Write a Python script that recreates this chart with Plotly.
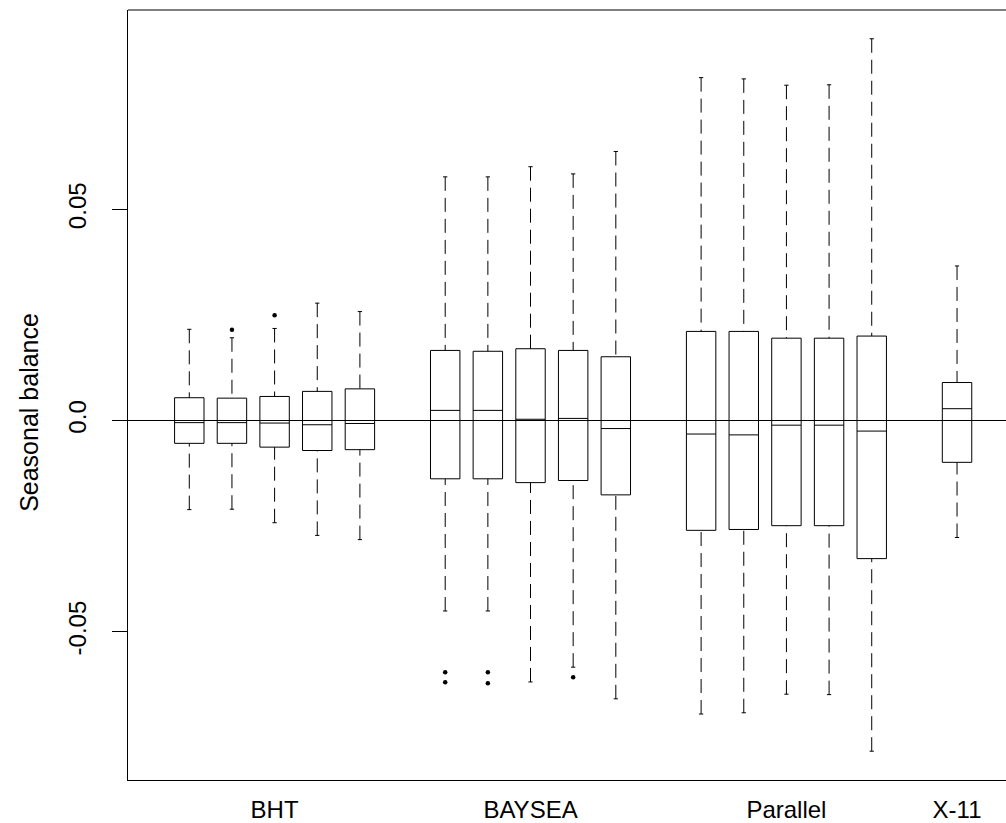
import plotly.graph_objects as go

# ---- data ----
group_names = ["BHT", "BAYSEA", "Parallel", "X-11"]
group_label_pos = [3, 9, 15, 19]

positions = [1, 2, 3, 4, 5, 7, 8, 9, 10, 11, 13, 14, 15, 16, 17, 19]

upper_whisker = [0.0216, 0.0196, 0.0218, 0.0278, 0.0258,
                 0.0577, 0.0577, 0.0601, 0.0584, 0.0637,
                 0.0812, 0.0809, 0.0794, 0.0795, 0.0904,
                 0.0366]
q3 = [0.0054, 0.0053, 0.0057, 0.0069, 0.0075,
      0.0166, 0.0164, 0.0170, 0.0166, 0.0151,
      0.0211, 0.0211, 0.0195, 0.0195, 0.0200,
      0.0090]
median = [-0.0005, -0.0005, -0.0006, -0.0010, -0.0007,
          0.0024, 0.0024, 0.0003, 0.0005, -0.0019,
          -0.0032, -0.0034, -0.0011, -0.0011, -0.0025,
          0.0028]
q1 = [-0.0054, -0.0054, -0.0063, -0.0071, -0.0069,
      -0.0138, -0.0138, -0.0147, -0.0142, -0.0176,
      -0.0260, -0.0258, -0.0249, -0.0249, -0.0327,
      -0.0099]
lower_whisker = [-0.0211, -0.0210, -0.0242, -0.0272, -0.0282,
                 -0.0451, -0.0451, -0.0619, -0.0584, -0.0659,
                 -0.0695, -0.0692, -0.0648, -0.0649, -0.0783,
                 -0.0277]

outlier_pos = [2, 3, 7, 7, 8, 8, 10]
outlier_val = [0.0215, 0.0249, -0.0596, -0.0620, -0.0596, -0.0622, -0.0608]

ytick_vals = [-0.05, 0.0, 0.05]
ytick_text = ["-0.05", "0.0", "0.05"]
y_title = "Seasonal balance"

BOX_HALF = 0.345
CAP_HALF = 0.05

# ---- build line geometry ----
bx, by, mx, my, wx, wy, cx, cy = [], [], [], [], [], [], [], []
for p, lo, a, m, b, hi in zip(positions, lower_whisker, q1, median, q3, upper_whisker):
    bx += [p - BOX_HALF, p + BOX_HALF, p + BOX_HALF, p - BOX_HALF, p - BOX_HALF, None]
    by += [a, a, b, b, a, None]
    mx += [p - BOX_HALF, p + BOX_HALF, None]
    my += [m, m, None]
    wx += [p, p, None, p, p, None]
    wy += [hi, b, None, lo, a, None]
    cx += [p - CAP_HALF, p + CAP_HALF, None, p - CAP_HALF, p + CAP_HALF, None]
    cy += [hi, hi, None, lo, lo, None]

fig = go.Figure()
line = dict(color="black", width=1)
fig.add_trace(go.Scatter(x=wx, y=wy, mode="lines",
                         line=dict(color="black", width=1, dash="14px,7px"), hoverinfo="skip"))
fig.add_trace(go.Scatter(x=cx, y=cy, mode="lines", line=line, hoverinfo="skip"))
fig.add_trace(go.Scatter(x=bx, y=by, mode="lines", line=line, hoverinfo="skip"))
fig.add_trace(go.Scatter(x=mx, y=my, mode="lines", line=line, hoverinfo="skip"))
fig.add_trace(go.Scatter(x=outlier_pos, y=outlier_val, mode="markers",
                         marker=dict(color="black", size=4.5), hoverinfo="skip"))

fig.update_layout(
    width=1006, height=823,
    margin=dict(l=127.7, r=0, t=9.5, b=43, pad=0),
    plot_bgcolor="white", paper_bgcolor="white",
    showlegend=False,
    font=dict(family="Liberation Sans, Arial, sans-serif", size=24, color="black"),
    shapes=[dict(type="line", xref="paper", yref="paper", x0=0, x1=1, y0=1, y1=1,
                 line=dict(color="black", width=1))],
    annotations=[dict(text=y_title, textangle=-90, showarrow=False,
                      xref="paper", yref="y", x=-0.113, y=0.0020,
                      xanchor="center", yanchor="middle",
                      font=dict(size=25, color="black"))],
)
fig.update_xaxes(
    range=[-0.437, 20.148], tickmode="array",
    tickvals=group_label_pos, ticktext=group_names,
    ticks="", showline=True, linecolor="black", linewidth=1,
    showgrid=False, zeroline=False, automargin=False,
    ticklabelstandoff=8,
)
fig.update_yaxes(
    range=[-0.08512, 0.09721], tickmode="array",
    tickvals=ytick_vals, ticktext=ytick_text, tickangle=-90,
    ticks="outside", ticklen=15, tickcolor="black", tickwidth=1,
    showline=True, linecolor="black", linewidth=1,
    showgrid=False, zeroline=True, zerolinecolor="black", zerolinewidth=1,
    automargin=False, ticklabelstandoff=16,
)
fig.write_html("out.html")
